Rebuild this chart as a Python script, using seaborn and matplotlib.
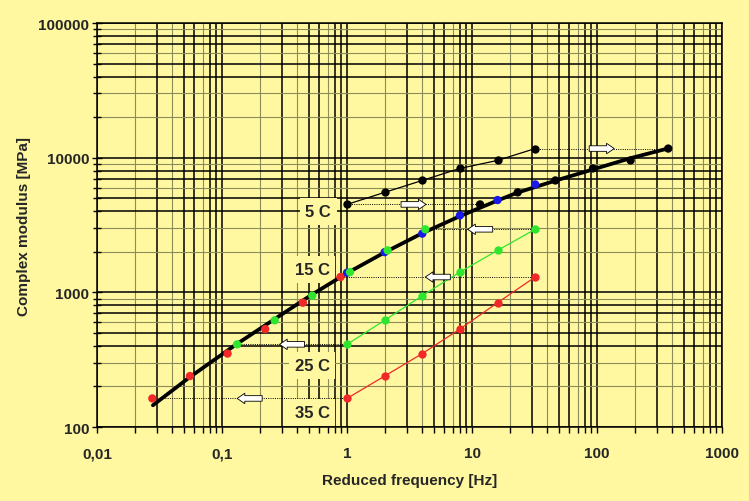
import numpy as np
import matplotlib.pyplot as plt
from matplotlib.ticker import FixedLocator, NullFormatter
import seaborn as sns

# test frequencies [Hz]
freq = [1, 2, 4, 8, 16, 32]

# measured complex modulus [MPa] per test temperature
e_5c = [4500, 5530, 6780, 8330, 9550, 11700]
e_15c = [1400, 1990, 2730, 3730, 4850, 6340]
e_25c = [411, 620, 945, 1415, 2050, 2940]
e_35c = [163, 239, 351, 534, 838, 1300]

# shift factors towards the 15 C reference
shift_5c = 11.6
shift_15c = 1.0
shift_25c = 0.132
shift_35c = 0.0277

# fitted master curve
master_freq = [0.028, 0.055, 0.13, 0.26, 0.52, 1, 2, 4, 8, 16, 23, 47, 93, 187, 370]
master_e = [145, 234, 411, 628, 958, 1390, 1980, 2750, 3680, 4810, 5500, 6780, 8190, 9950, 11720]

x_tick_vals = [0.01, 0.1, 1, 10, 100, 1000]
x_tick_labels = ['0,01', '0,1', '1', '10', '100', '1000']
y_tick_vals = [100, 1000, 10000, 100000]
y_tick_labels = ['100', '1000', '10000', '100000']

bg = '#FFF8A0'
olive = '#8c8c58'

sns.set_style('ticks')
plt.rcParams['font.family'] = ['Liberation Sans', 'DejaVu Sans']

fig, ax = plt.subplots(figsize=(7.49, 5.02), dpi=100)
fig.patch.set_facecolor(bg)
ax.set_facecolor(bg)
fig.subplots_adjust(left=0.1295, right=0.964, bottom=0.1474, top=0.952)

ax.set_xscale('log')
ax.set_yscale('log')
ax.set_xlim(0.01, 1000)
ax.set_ylim(100, 100000)

# grid: excel style, some minor lines come out dark
for ex in range(-2, 3):
    for m in range(1, 10):
        v = m * 10.0 ** ex
        dark = m in (1, 3, 5, 6, 8, 9)
        ax.axvline(v, color='black' if dark else olive, lw=1.1 if dark else 0.8, zorder=0.5)
ax.axvline(1000, color='black', lw=1.1, zorder=0.5)
for ex in range(2, 5):
    for m in range(1, 10):
        v = m * 10.0 ** ex
        dark = m in (1, 4, 5, 7, 8)
        ax.axhline(v, color='black' if dark else olive, lw=1.1 if dark else 0.8, zorder=0.5)
ax.axhline(100000, color='black', lw=1.1, zorder=0.5)

series = [
    ('5 C', e_5c, shift_5c, 'black'),
    ('15 C', e_15c, shift_15c, '#1a1ae6'),
    ('25 C', e_25c, shift_25c, '#2ee62e'),
    ('35 C', e_35c, shift_35c, '#f02828'),
]


def shift_arrow(x0, x1, y):
    xc = np.sqrt(x0 * x1)
    d = 10 ** 0.1 if x1 > x0 else 10 ** -0.1
    ax.annotate('', xy=(xc * d, y), xytext=(xc / d, y),
                arrowprops=dict(arrowstyle='simple,head_length=0.55,head_width=0.75,tail_width=0.4',
                                fc='white', ec='black', lw=0.6, shrinkA=0, shrinkB=0,
                                mutation_scale=10),
                zorder=6)


for name, vals, a_t, col in series:
    shifted = [f * a_t for f in freq]
    if a_t != 1.0:
        # raw isotherm
        sns.lineplot(x=freq, y=vals, ax=ax, color=col, lw=0.9, marker='o', markersize=6,
                     markeredgewidth=0, zorder=3)
        # dotted connectors + arrows showing the shift
        for i in (0, -1):
            ax.plot([freq[i], shifted[i]], [vals[i], vals[i]], color='black', lw=0.7,
                    ls=(0, (1, 1.3)), zorder=2.5)
            shift_arrow(freq[i], shifted[i], vals[i])

# master curve
sns.lineplot(x=master_freq, y=master_e, ax=ax, color='black', lw=2.7, zorder=4)

# shifted points on the master curve
for name, vals, a_t, col in series:
    shifted = [f * a_t for f in freq]
    sns.scatterplot(x=shifted, y=vals, ax=ax, color=col, s=36, edgecolor='none', zorder=5)

# temperature labels
label_pos = {'5 C': (0.59, 3990), '15 C': (0.525, 1480), '25 C': (0.525, 287), '35 C': (0.525, 128)}
for name, (lx, ly) in label_pos.items():
    ax.text(lx, ly, name, ha='center', va='center', fontsize=12, fontweight='bold',
            bbox=dict(boxstyle='square,pad=0.35', fc=bg, ec='none'), zorder=2)

ax.xaxis.set_major_locator(FixedLocator(x_tick_vals))
ax.set_xticklabels(x_tick_labels, fontsize=11, fontweight='bold')
ax.yaxis.set_major_locator(FixedLocator(y_tick_vals))
ax.set_yticklabels(y_tick_labels, fontsize=11, fontweight='bold')
ax.xaxis.set_minor_formatter(NullFormatter())
ax.yaxis.set_minor_formatter(NullFormatter())

ax.tick_params(axis='x', which='both', direction='out', length=4, width=1, pad=10, color='black')
ax.tick_params(axis='y', which='major', direction='inout', length=7, width=1, pad=2, color='black')
ax.tick_params(axis='y', which='minor', direction='inout', length=6, width=1, pad=2, color='black')

for sp in ax.spines.values():
    sp.set_color('black')
    sp.set_linewidth(1.1)
    sp.set_zorder(0.6)

ax.set_xlabel('Reduced frequency [Hz]', fontsize=11, fontweight='bold', labelpad=9)
ax.set_ylabel('Complex modulus [MPa]', fontsize=11, fontweight='bold', labelpad=5)

fig.savefig('out.png', dpi=100, facecolor=bg)
